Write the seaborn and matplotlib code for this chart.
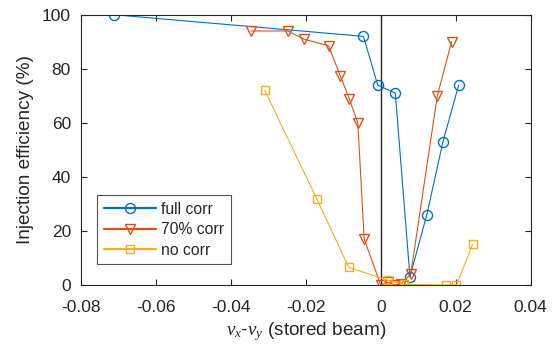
import matplotlib
matplotlib.use("Agg")
import matplotlib.pyplot as plt
import seaborn as sns
import pandas as pd

# data
full_x = [-0.0710, -0.0046, -0.0008, 0.0039, 0.0078, 0.0123, 0.0166, 0.0208]
full_y = [100, 92, 74, 71, 3, 26, 53, 74]

c70_x = [-0.0346, -0.0248, -0.0205, -0.0139, -0.0108, -0.0084, -0.0061, -0.0044,
         0.0000, 0.0019, 0.0037, 0.0055, 0.0080, 0.0151, 0.0189]
c70_y = [94, 94, 91, 88.5, 77.5, 69, 60, 17,
         0, 1, 0, 0.5, 4, 70, 90]

no_x = [-0.0309, -0.0171, -0.0085, 0.0019, 0.0062, 0.0173, 0.0202, 0.0245]
no_y = [72, 32, 6.5, 1.8, 0.2, 0, 0, 15]

labels = ["full corr", "70% corr", "no corr"]
xticks = [-0.08, -0.06, -0.04, -0.02, 0, 0.02, 0.04]
xticklabels = ["-0.08", "-0.06", "-0.04", "-0.02", "0", "0.02", "0.04"]
yticks = [0, 20, 40, 60, 80, 100]

sns.set_style("white")
plt.rcParams["font.family"] = ["Liberation Sans", "DejaVu Sans"]
plt.rcParams["mathtext.fontset"] = "custom"
plt.rcParams["mathtext.it"] = "Liberation Serif:italic"
plt.rcParams["mathtext.rm"] = "Liberation Sans"

fig = plt.figure(figsize=(5.56, 3.51), dpi=100)
ax = fig.add_axes([0.1451, 0.188, 0.8094, 0.770])

colors = ["#0072BD", "#D95319", "#EDB120"]
markers = ["o", "v", "s"]
msizes = [7.2, 7.2, 6.3]
series = [(full_x, full_y), (c70_x, c70_y), (no_x, no_y)]

for (xs, ys), lab, col, mk, ms in zip(series, labels, colors, markers, msizes):
    df = pd.DataFrame({"x": xs, "y": ys})
    sns.lineplot(data=df, x="x", y="y", ax=ax, sort=False, estimator=None,
                 color=col, marker=mk, markersize=ms, markerfacecolor="none",
                 markeredgecolor=col, markeredgewidth=1.0, linewidth=0.8,
                 label=lab)

ax.axvline(0, color="0.15", linewidth=1.0, zorder=1)

ax.set_xlim(-0.08, 0.04)
ax.set_ylim(0, 100)
ax.set_xticks(xticks)
ax.set_xticklabels(xticklabels)
ax.set_yticks(yticks)
ax.tick_params(direction="in", length=4, width=0.8, colors="0.15",
               labelsize=12.5, top=True, right=True, bottom=True, left=True,
               labelcolor="0.15")
ax.tick_params(axis="x", pad=11)
ax.tick_params(axis="y", pad=7)
for s in ax.spines.values():
    s.set_visible(True)
    s.set_color("0.15")
    s.set_linewidth(0.8)

ax.set_xlabel(r"$\nu_x$-$\nu_y$ (stored beam)", fontsize=13.7, color="0.15", labelpad=3.5)
ax.set_ylabel("Injection efficiency (%)", fontsize=13.7, color="0.15", labelpad=6)

leg = ax.legend(loc="lower left", bbox_to_anchor=(0.037, 0.077), borderaxespad=0,
                fontsize=11.3, frameon=True, fancybox=False, handlelength=3.36,
                borderpad=0.4, labelspacing=0.36, handletextpad=0.32)
leg.get_frame().set_edgecolor("0.15")
leg.get_frame().set_linewidth(0.8)
for h in leg.get_lines():
    h.set_linewidth(1.6)
    h.set_alpha(1)

fig.savefig("out.png", dpi=100)
